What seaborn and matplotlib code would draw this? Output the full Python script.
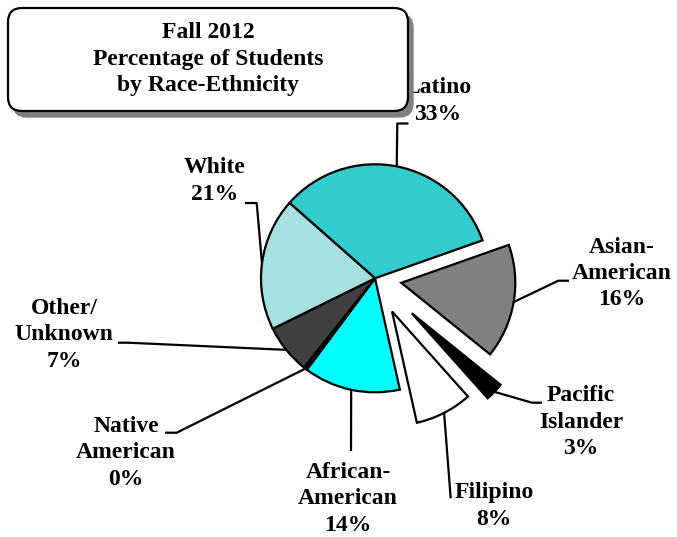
import numpy as np
import matplotlib
matplotlib.use("Agg")
import matplotlib.pyplot as plt
from matplotlib.patches import FancyBboxPatch
import seaborn as sns

# ---- data ----
categories = ["Latino", "Asian-\nAmerican", "Pacific\nIslander", "Filipino",
              "African-\nAmerican", "Native\nAmerican", "Other/\nUnknown", "White"]
pct_labels = [33, 16, 3, 8, 14, 0, 7, 21]
wedge_shares = [33.1, 16.2, 2.6, 8.1, 13.7, 0.5, 7.0, 18.8]
explode = [0, 0.234, 0.445, 0.327, 0, 0, 0, 0]
colors = ["#33CCCC", "#808080", "#000000", "#FFFFFF",
          "#00FFFF", "#000000", "#404040", "#A6E0E0"]
title_lines = ["Fall 2012", "Percentage of Students", "by Race-Ethnicity"]

sns.set_theme(style="white")
plt.rcParams["font.family"] = ["Liberation Serif", "DejaVu Serif"]
plt.rcParams["text.color"] = "black"

W, H = 677, 537
CX, CY, R = 375.0, 278.3, 114.0
FS = 17
LS = 1.33


def P(px, py):
    return ((px - CX) / R, (CY - py) / R)


fig = plt.figure(figsize=(W / 100, H / 100), dpi=100)
ax = fig.add_axes([0, 0, 1, 1])

wedges, _ = ax.pie(wedge_shares, explode=explode, colors=colors,
                   startangle=138.6, counterclock=False, radius=1.0,
                   wedgeprops=dict(edgecolor="black", linewidth=1.6))

ax.set_xlim(-CX / R, (W - CX) / R)
ax.set_ylim(-(H - CY) / R, CY / R)
ax.set_aspect("equal")
ax.axis("off")

# leader line elbows / ends and label positions (pixel layout)
leaders = [
    [(397.3, 123.5), (408.5, 123.5)],
    [(558.3, 280.7), (569.0, 280.7)],
    [(532.0, 402.7), (542.0, 402.7)],
    [(450.7, 498.3)],
    [(351.0, 451.0)],
    [(176.7, 432.7), (165.0, 432.7)],
    [(128.0, 342.7), (118.0, 342.7)],
    [(256.7, 203.0), (245.0, 203.0)],
]
label_pos = [(438, 101), (622, 273.5), (581, 422), (494, 506),
             (348, 499), (126, 453), (64, 335), (215, 181)]

for w, cat, pct, pts, lp in zip(wedges, categories, pct_labels, leaders, label_pos):
    th = np.deg2rad((w.theta1 + w.theta2) / 2.0)
    sx = w.center[0] + w.r * np.cos(th)
    sy = w.center[1] + w.r * np.sin(th)
    xs = [sx] + [P(*p)[0] for p in pts]
    ys = [sy] + [P(*p)[1] for p in pts]
    ax.plot(xs, ys, color="black", lw=1.6, zorder=2, solid_capstyle="butt")
    ax.text(*P(*lp), f"{cat}\n{pct}%", ha="center", va="center", color="black",
            fontsize=FS, fontweight="bold", linespacing=LS, zorder=3)

# title box with shadow
bx0, by0 = P(8, 111)
bw, bh = 400 / R, 103 / R
rs = 14 / R
shadow = FancyBboxPatch((bx0 + 5 / R, by0 - 6 / R), bw, bh,
                        boxstyle=f"round,pad=0,rounding_size={rs}",
                        facecolor="#808080", edgecolor="#808080", lw=1.0, zorder=4)
box = FancyBboxPatch((bx0, by0), bw, bh,
                     boxstyle=f"round,pad=0,rounding_size={rs}",
                     facecolor="white", edgecolor="black", lw=1.6, zorder=5)
ax.add_patch(shadow)
ax.add_patch(box)
ax.text(*P(208, 59), "\n".join(title_lines), ha="center", va="center", color="black",
        fontsize=FS, fontweight="bold", linespacing=LS, zorder=6)

fig.savefig("out.png", dpi=100)
